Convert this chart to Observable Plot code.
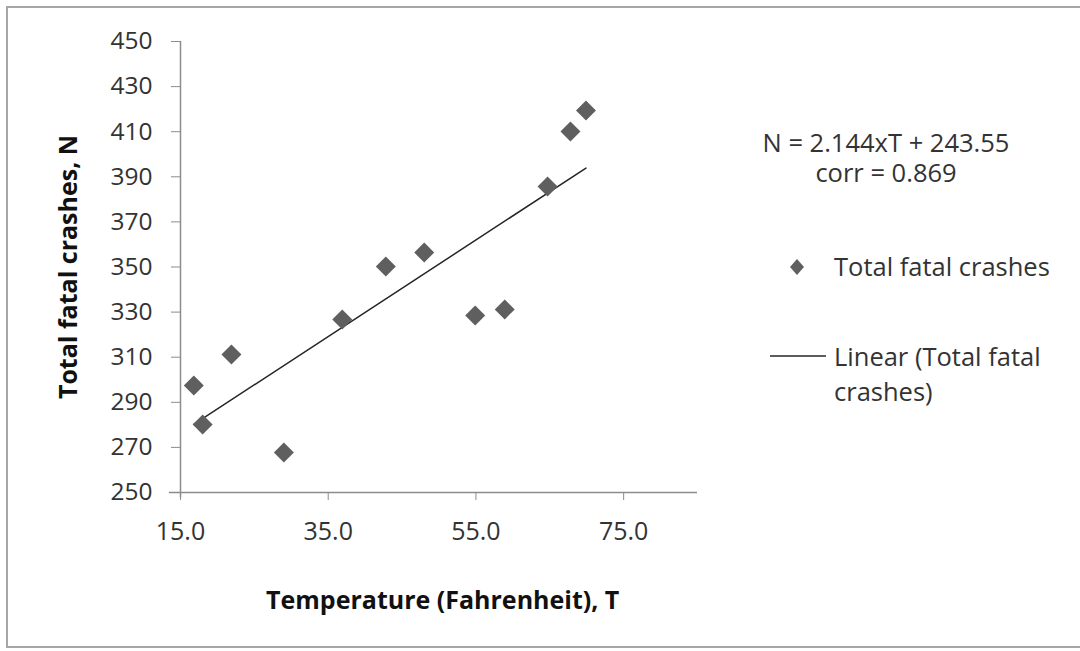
<!DOCTYPE html>
<html>
<head>
<meta charset="utf-8">
<script src="https://cdn.jsdelivr.net/npm/d3@7"></script>
<script src="https://cdn.jsdelivr.net/npm/@observablehq/plot@0.6"></script>
<style>
  html, body { margin: 0; padding: 0; background: #fff; }
  #wrap { position: relative; width: 1080px; height: 651px; overflow: hidden; font-family: "Open Sans", sans-serif; }
  #frame { position: absolute; left: 6px; top: 6px; width: 1100px; height: 642px; border: 2px solid #a6a6a6; border-right: none; box-sizing: border-box; pointer-events: none; }
  #chart svg text { font-family: "Open Sans", sans-serif; }
  .note { position: absolute; font-size: 25.5px; color: #333; white-space: nowrap; line-height: 28px; height: 28px; }
</style>
</head>
<body>
<div id="wrap">
  <div id="chart"></div>
  <div id="frame"></div>
  <div class="note" style="left:740px; top:128px; width:292px; text-align:center;">N = 2.144xT + 243.55</div>
  <div class="note" style="left:740px; top:158px; width:292px; text-align:center;">corr = 0.869</div>
  <svg style="position:absolute; left:780px; top:250px;" width="34" height="34"><path d="M17,9 L24,17 L17,25 L10,17 Z" fill="#5f5f5f"/></svg>
  <div class="note" style="left:834px; top:252px;">Total fatal crashes</div>
  <svg style="position:absolute; left:766px; top:346px;" width="64" height="20"><line x1="4" x2="60" y1="10" y2="10" stroke="#262626" stroke-width="1.5"/></svg>
  <div class="note" style="left:834px; top:342px;">Linear (Total fatal</div>
  <div class="note" style="left:834px; top:377px;">crashes)</div>
</div>
<script>
const temperature = [16.8, 18.0, 21.9, 29.0, 36.9, 42.8, 48.0, 54.9, 58.9, 64.7, 67.8, 69.9];
const crashes = [297.4, 280.2, 311.2, 267.7, 326.7, 350.2, 356.4, 328.5, 331.2, 385.7, 410.1, 419.4];
const xTicks = [15, 35, 55, 75];
const yTicks = [250, 270, 290, 310, 330, 350, 370, 390, 410, 430, 450];

const data = temperature.map((t, i) => ({T: t, N: crashes[i]}));

const chart = Plot.plot({
  width: 1080,
  height: 651,
  marginLeft: 180,
  marginRight: 383,
  marginTop: 41,
  marginBottom: 159,
  style: {fontFamily: "'Open Sans', sans-serif", fontSize: "24px", color: "#333", background: "white"},
  x: {domain: [15, 85]},
  y: {domain: [250, 450]},
  marks: [
    Plot.ruleX([15], {y1: 247.6, y2: 450, stroke: "#8c8c8c", strokeWidth: 1.5}),
    Plot.ruleY([250], {x1: 13.5, x2: 85, stroke: "#8c8c8c", strokeWidth: 1.5}),
    Plot.axisY(yTicks, {tickSize: 9, tickPadding: 19, stroke: "#8c8c8c", tickFormat: d => d, fontSize: 24.5, fill: "#333", label: null}),
    Plot.axisX(xTicks, {tickSize: 8, tickPadding: 22, stroke: "#8c8c8c", tickFormat: d => d.toFixed(1), fontSize: 25, fill: "#333", label: null}),
    Plot.text(["Total fatal crashes, N"], {frameAnchor: "left", dx: -112, rotate: -90, textAnchor: "middle", fontWeight: "bold", fontSize: 25, fill: "#111"}),
    Plot.text(["Temperature (Fahrenheit), T"], {x: 50.5, y: 250, dy: 108, fontWeight: "bold", fontSize: 25, fill: "#111"}),
    Plot.linearRegressionY(data, {x: "T", y: "N", ci: 0, stroke: "#262626", strokeWidth: 1.5}),
    Plot.dot(data, {x: "T", y: "N", symbol: "diamond2", r: 9, fill: "#5f5f5f", stroke: "none"})
  ]
});
document.getElementById("chart").appendChild(chart);
</script>
</body>
</html>
